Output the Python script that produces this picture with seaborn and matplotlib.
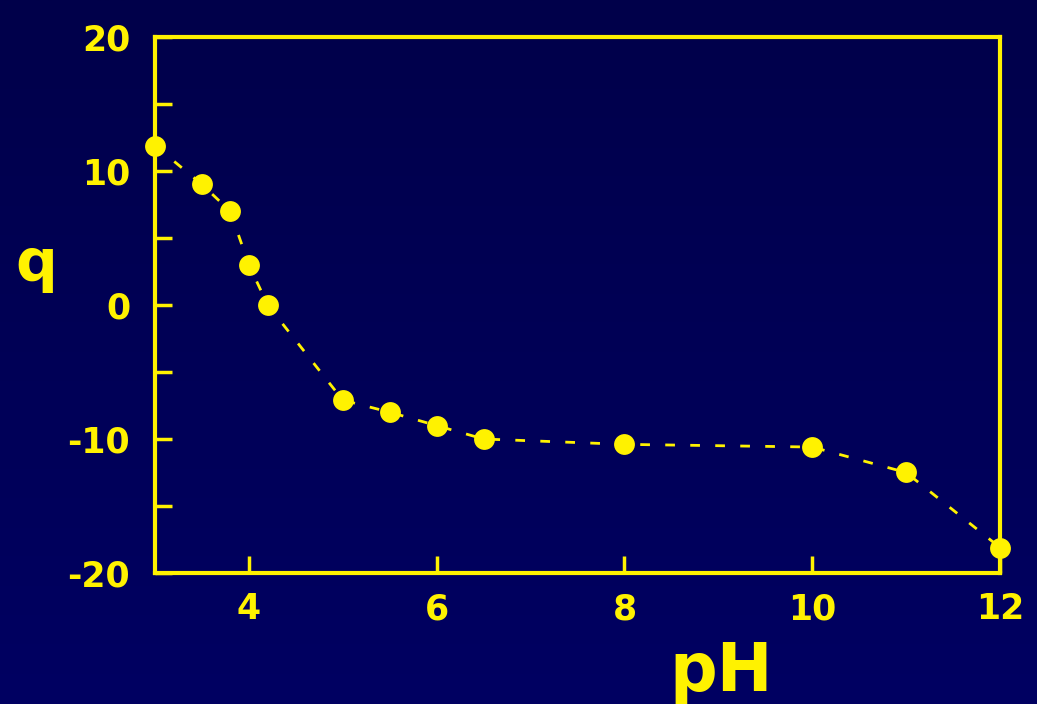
import matplotlib
matplotlib.use("Agg")
import matplotlib.pyplot as plt
import seaborn as sns
import pandas as pd
import numpy as np
from matplotlib.colors import LinearSegmentedColormap

ph = [3.0, 3.5, 3.8, 4.0, 4.2, 5.0, 5.5, 6.0, 6.5, 8.0, 10.0, 11.0, 12.0]
q = [11.9, 9.0, 7.0, 3.0, 0.0, -7.1, -8.0, -9.0, -10.0, -10.4, -10.6, -12.5, -18.1]
xticks = [4, 6, 8, 10, 12]
yticks = [-20, -10, 0, 10, 20]

sns.set_theme(style="white")
plt.rcParams['font.family'] = ['DejaVu Sans']
plt.rcParams['axes.unicode_minus'] = False

YEL = "#FFF200"
BG = "#000058"

df = pd.DataFrame({"pH": ph, "q": q})

fig = plt.figure(figsize=(10.37, 7.04), dpi=100)
fig.patch.set_facecolor(BG)
bgax = fig.add_axes([0, 0, 1, 1], zorder=-10)
grad = np.linspace(0, 1, 256).reshape(-1, 1)
cmap = LinearSegmentedColormap.from_list("bg", ["#00004A", "#000062"])
bgax.imshow(grad, aspect="auto", cmap=cmap, extent=[0, 1, 0, 1], origin="upper")
bgax.axis("off")

ax = fig.add_axes([0.1495, 0.1861, 0.8148, 0.7613])
ax.set_facecolor("none")

sns.lineplot(data=df, x="pH", y="q", ax=ax, color=YEL, linewidth=2.0,
             marker="o", markersize=15, markeredgewidth=0, markerfacecolor=YEL,
             dashes=False)
for line in ax.get_lines():
    line.set_linestyle((0, (3.5, 5.5)))
    line.set_clip_on(False)

ax.set_xlim(3, 12)
ax.set_ylim(-20, 20)
ax.set_xticks(xticks)
ax.set_yticks(yticks)
ax.set_yticks([-15, -5, 5, 15], minor=True)

for s in ax.spines.values():
    s.set_color(YEL)
    s.set_linewidth(3)
    s.set_visible(True)

ax.tick_params(axis="both", which="both", direction="in", color=YEL, width=2.5,
               labelcolor=YEL, labelsize=25, length=12, left=True, bottom=True,
               top=False, right=False)
ax.tick_params(axis="y", pad=18)
ax.tick_params(axis="x", pad=14)
for lab in ax.get_xticklabels() + ax.get_yticklabels():
    lab.set_fontweight("bold")

ax.set_xlabel("pH", color=YEL, fontsize=48, fontweight="bold",
              va="center", ha="center")
ax.xaxis.set_label_coords(0.67, -0.185)
ax.set_ylabel("q", color=YEL, fontsize=42, fontweight="bold", rotation=0,
              va="center", ha="center")
ax.yaxis.set_label_coords(-0.14, 0.575)

fig.savefig("out.png", dpi=100, facecolor=BG)
